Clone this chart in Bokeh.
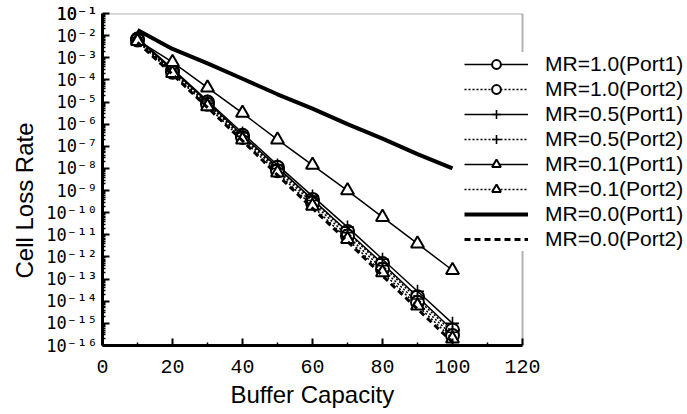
from bokeh.plotting import figure
from bokeh.models import (Legend, LegendItem, FixedTicker, CustomJSTickFormatter,
                          BoxAnnotation, Title)
from bokeh.embed import file_html
from bokeh.resources import INLINE

# ---- data (log10 of cell loss rate) ----
buffer_capacity = [10, 20, 30, 40, 50, 60, 70, 80, 90, 100]
mr10_port1 = [-2.15, -3.55, -5.0, -6.5, -7.95, -9.4, -10.85, -12.3, -13.8, -15.3]
mr10_port2 = [-2.2, -3.65, -5.1, -6.6, -8.1, -9.55, -11.05, -12.55, -14.05, -15.55]
mr05_port1 = [-2.1, -3.5, -4.95, -6.4, -7.85, -9.25, -10.65, -12.1, -13.55, -15.0]
mr05_port2 = [-2.2, -3.6, -5.05, -6.55, -8.0, -9.45, -10.9, -12.4, -13.9, -15.4]
mr01_port1 = [-2.2, -3.2, -4.35, -5.5, -6.7, -7.85, -9.0, -10.2, -11.4, -12.6]
mr01_port2 = [-2.25, -3.7, -5.2, -6.7, -8.2, -9.7, -11.2, -12.7, -14.2, -15.7]
mr00_port1 = [-1.75, -2.6, -3.25, -3.95, -4.65, -5.3, -6.0, -6.65, -7.35, -8.0]
mr00_port2 = [-2.3, -3.75, -5.25, -6.75, -8.3, -9.8, -11.3, -12.85, -14.35, -15.85]

x_ticks = [0, 20, 40, 60, 80, 100, 120]
x_minor_ticks = [10, 30, 50, 70, 90, 110]
x_min, x_max = 0, 120
y_exponents = list(range(-16, 0))
minor_mantissas = [2, 3, 4, 5, 6, 7, 8, 9]

series = [
    ("MR=1.0(Port1)", mr10_port1, "solid", 1.5, "circle"),
    ("MR=1.0(Port2)", mr10_port2, "2 2", 1.5, "circle"),
    ("MR=0.5(Port1)", mr05_port1, "solid", 1.5, "cross"),
    ("MR=0.5(Port2)", mr05_port2, "2 2", 1.5, "cross"),
    ("MR=0.1(Port1)", mr01_port1, "solid", 1.5, "triangle"),
    ("MR=0.1(Port2)", mr01_port2, "2 2", 1.5, "triangle"),
    ("MR=0.0(Port1)", mr00_port1, "solid", 4, None),
    ("MR=0.0(Port2)", mr00_port2, "6 4", 3, None),
]

W, H = 687, 414
LEFT, TOP, BOTTOM = 102, 13, 69
FRAME_W_TO_120 = 420  # pixels from x=0 to x=120
x_view_end = x_max * (W - LEFT) / FRAME_W_TO_120

p = figure(width=W, height=H, y_axis_type="log",
           x_range=(x_min, x_view_end), y_range=(1e-16, 1e-1),
           output_backend="svg", toolbar_location=None,
           min_border_left=LEFT, min_border_right=0,
           min_border_top=TOP, min_border_bottom=BOTTOM)

p.xgrid.visible = False
p.ygrid.visible = False
p.outline_line_color = None
p.background_fill_color = "white"
p.border_fill_color = "white"

# frame box from x=0..120
frame = BoxAnnotation(left=x_min, right=x_max, bottom=1e-16, top=1e-1,
                      fill_alpha=0, line_color="black", line_width=2)
p.add_layout(frame)

items = []
for label, vals, dash, lw, marker in series:
    yv = [10 ** v for v in vals]
    rs = []
    r = p.line(buffer_capacity, yv, line_color="black", line_width=lw, line_dash=dash)
    rs.append(r)
    if marker is not None:
        m = p.scatter(buffer_capacity, yv, marker=marker, size=13,
                      line_color="black", line_width=2 if marker != "cross" else 1.6,
                      fill_color="white")
        rs.append(m)
    items.append(LegendItem(label=label, renderers=rs))

# axes styling
for ax in (p.xaxis[0], p.yaxis[0]):
    ax.axis_line_width = 3
    ax.axis_line_color = "black"
    ax.major_tick_in = 7
    ax.major_tick_out = 0
    ax.minor_tick_in = 3
    ax.minor_tick_out = 0
    ax.major_tick_line_width = 2
    ax.minor_tick_line_width = 1.5
    ax.major_label_text_font = "Liberation Mono"
    ax.major_label_text_color = "black"

p.xaxis.bounds = (x_min, x_max)
p.xaxis.ticker = FixedTicker(ticks=x_ticks, minor_ticks=x_minor_ticks)
p.xaxis.major_label_text_font_size = "20px"
p.xaxis.major_label_standoff = 14

p.yaxis.ticker = FixedTicker(
    ticks=[10.0 ** e for e in y_exponents] + [1e-1],
    minor_ticks=[m * 10.0 ** e for e in y_exponents for m in minor_mantissas])
p.yaxis.formatter = CustomJSTickFormatter(code="""
const e = Math.round(Math.log10(tick));
const sup = {'-':'\u207b','0':'\u2070','1':'\u00b9','2':'\u00b2','3':'\u00b3','4':'\u2074',
             '5':'\u2075','6':'\u2076','7':'\u2077','8':'\u2078','9':'\u2079'};
return '10' + String(e).split('').map(c => sup[c]).join('');
""")
p.yaxis.major_label_text_font = "DejaVu Sans Mono"
p.yaxis.major_label_text_font_size = "17px"
p.yaxis.major_label_standoff = 5

# axis titles (placed as titles so they can be positioned along the axis)
xtitle = Title(text="Buffer Capacity", align="left", offset=128, standoff=6,
               text_font="Liberation Sans", text_font_style="normal",
               text_font_size="24px", text_color="black")
p.add_layout(xtitle, "below")
ytitle = Title(text="Cell Loss Rate", align="left", offset=67, standoff=12,
               text_font="Liberation Sans", text_font_style="normal",
               text_font_size="24px", text_color="black")
p.add_layout(ytitle, "left")

legend = Legend(items=items, location=(362, 94),
                background_fill_color="white", background_fill_alpha=1.0,
                border_line_color=None,
                glyph_width=64, glyph_height=22, label_height=22,
                label_standoff=17, spacing=1, padding=5, margin=0,
                label_text_font="Liberation Sans", label_text_font_size="21px",
                label_text_color="black")
p.add_layout(legend, "center")

open("out.html", "w").write(file_html(p, INLINE))
